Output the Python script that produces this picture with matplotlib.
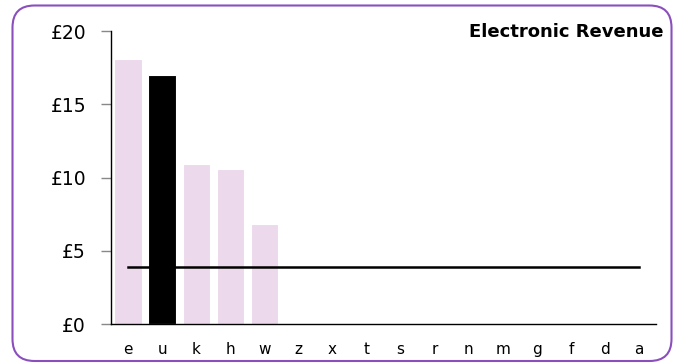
import matplotlib
matplotlib.use('Agg')
import matplotlib.pyplot as plt
from matplotlib.patches import FancyBboxPatch
from matplotlib.transforms import IdentityTransform

categories = ['e', 'u', 'k', 'h', 'w', 'z', 'x', 't', 's', 'r', 'n', 'm', 'g', 'f', 'd', 'a']
revenue = [18.1, 17.0, 10.9, 10.6, 6.8, 0, 0, 0, 0, 0, 0, 0, 0, 0, 0, 0]
highlight = 'u'
average = [3.9] * len(categories)
yticks = [0, 5, 10, 15, 20]

fig = plt.figure(figsize=(6.74, 3.63), dpi=100)
ax = fig.add_axes([0.1647, 0.1074, 0.8086, 0.8072])

# rounded frame round the whole chart
frame = FancyBboxPatch((12.5, 2), 659, 355.5, boxstyle='round,pad=0,rounding_size=22',
                       transform=IdentityTransform(), fill=False,
                       edgecolor='#8b4fbd', linewidth=1.5)
fig.add_artist(frame)

colors = ['black' if c == highlight else '#ecd9ec' for c in categories]
x = range(len(categories))
ax.bar(x, revenue, width=0.8, color=colors, edgecolor='white', linewidth=0.8)
ax.plot(x, average, color='black', linewidth=1.8)

ax.set_xlim(-0.5, len(categories) - 0.5)
ax.set_ylim(0, 20)
ax.set_xticks(list(x))
ax.set_xticklabels(categories, fontsize=11)
ax.set_yticks(yticks)
ax.set_yticklabels(['£%d' % v for v in yticks], fontsize=13.5)
ax.tick_params(axis='x', length=0, pad=13)
ax.tick_params(axis='y', length=7, color='#888888', width=1, pad=11)

for s in ['top', 'right']:
    ax.spines[s].set_visible(False)
ax.spines['left'].set_linewidth(1)
ax.spines['bottom'].set_linewidth(1)

fig.text(0.984, 0.912, 'Electronic Revenue', ha='right', va='center',
         fontsize=13, fontweight='bold')

fig.savefig('out.png', dpi=100)
